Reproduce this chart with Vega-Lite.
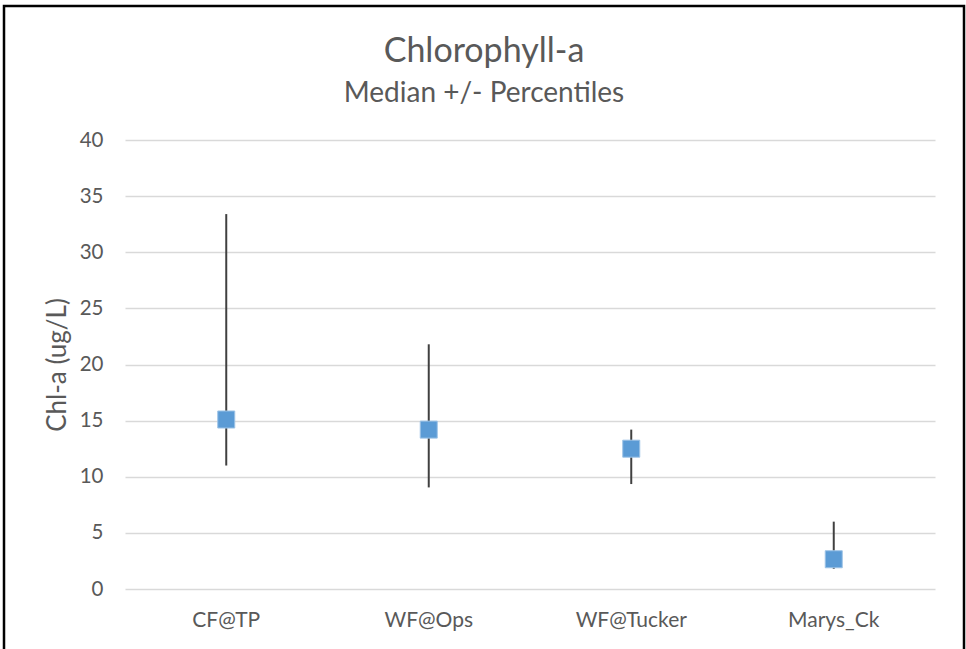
{
  "$schema": "https://vega.github.io/schema/vega-lite/v6.json",
  "width": 960,
  "height": 660,
  "autosize": {"type": "none"},
  "padding": {"left": 4, "top": 6, "right": 2, "bottom": 0},
  "background": "white",
  "title": {
    "text": "Chlorophyll-a",
    "subtitle": "Median +/- Percentiles",
    "anchor": "middle",
    "frame": "group",
    "font": "Lato",
    "fontSize": 34,
    "fontWeight": "normal",
    "color": "#595959",
    "subtitleFont": "Lato",
    "subtitleFontSize": 28,
    "subtitleColor": "#595959",
    "subtitlePadding": 11,
    "offset": -102
  },
  "data": {
    "values": [
      {"site": "CF@TP", "median": 15.1, "low": 11.0, "high": 33.4},
      {"site": "WF@Ops", "median": 14.2, "low": 9.05, "high": 21.8},
      {"site": "WF@Tucker", "median": 12.5, "low": 9.35, "high": 14.2},
      {"site": "Marys_Ck", "median": 2.65, "low": 1.8, "high": 6.0}
    ]
  },
  "encoding": {
    "x": {
      "field": "site",
      "type": "nominal",
      "sort": null,
      "scale": {"paddingInner": 0, "paddingOuter": 0, "range": [121, 931]},
      "axis": {
        "title": null,
        "labelAngle": 0,
        "domain": false,
        "ticks": false,
        "grid": false,
        "offset": -77,
        "labelFont": "Lato",
        "labelFontSize": 21,
        "labelColor": "#595959",
        "labelPadding": 20
      }
    }
  },
  "layer": [
    {
      "mark": {"type": "rule", "color": "#404040", "strokeWidth": 2},
      "encoding": {
        "y": {
          "field": "low",
          "type": "quantitative",
          "scale": {"domain": [0, 40], "range": [583, 134]},
          "axis": {
            "title": "Chl-a (ug/L)",
            "values": [0, 5, 10, 15, 20, 25, 30, 35, 40],
            "domain": false,
            "ticks": false,
            "grid": true,
            "gridColor": "#D9D9D9",
            "gridWidth": 1.3,
            "offset": -121,
            "labelFont": "Lato",
            "labelFontSize": 20.5,
            "labelColor": "#595959",
            "labelPadding": 22,
            "titleFont": "Lato",
            "titleFontSize": 26,
            "titleFontWeight": "normal",
            "titleColor": "#595959",
            "titlePadding": 9
          }
        },
        "y2": {"field": "high"}
      }
    },
    {
      "mark": {"type": "point", "shape": "square", "filled": true, "size": 290, "color": "#5B9BD5", "opacity": 1, "stroke": "#9DC3E6", "strokeWidth": 1},
      "encoding": {
        "y": {"field": "median", "type": "quantitative"}
      }
    }
  ],
  "config": {
    "view": {"stroke": "#000000", "strokeWidth": 2.5}
  }
}
